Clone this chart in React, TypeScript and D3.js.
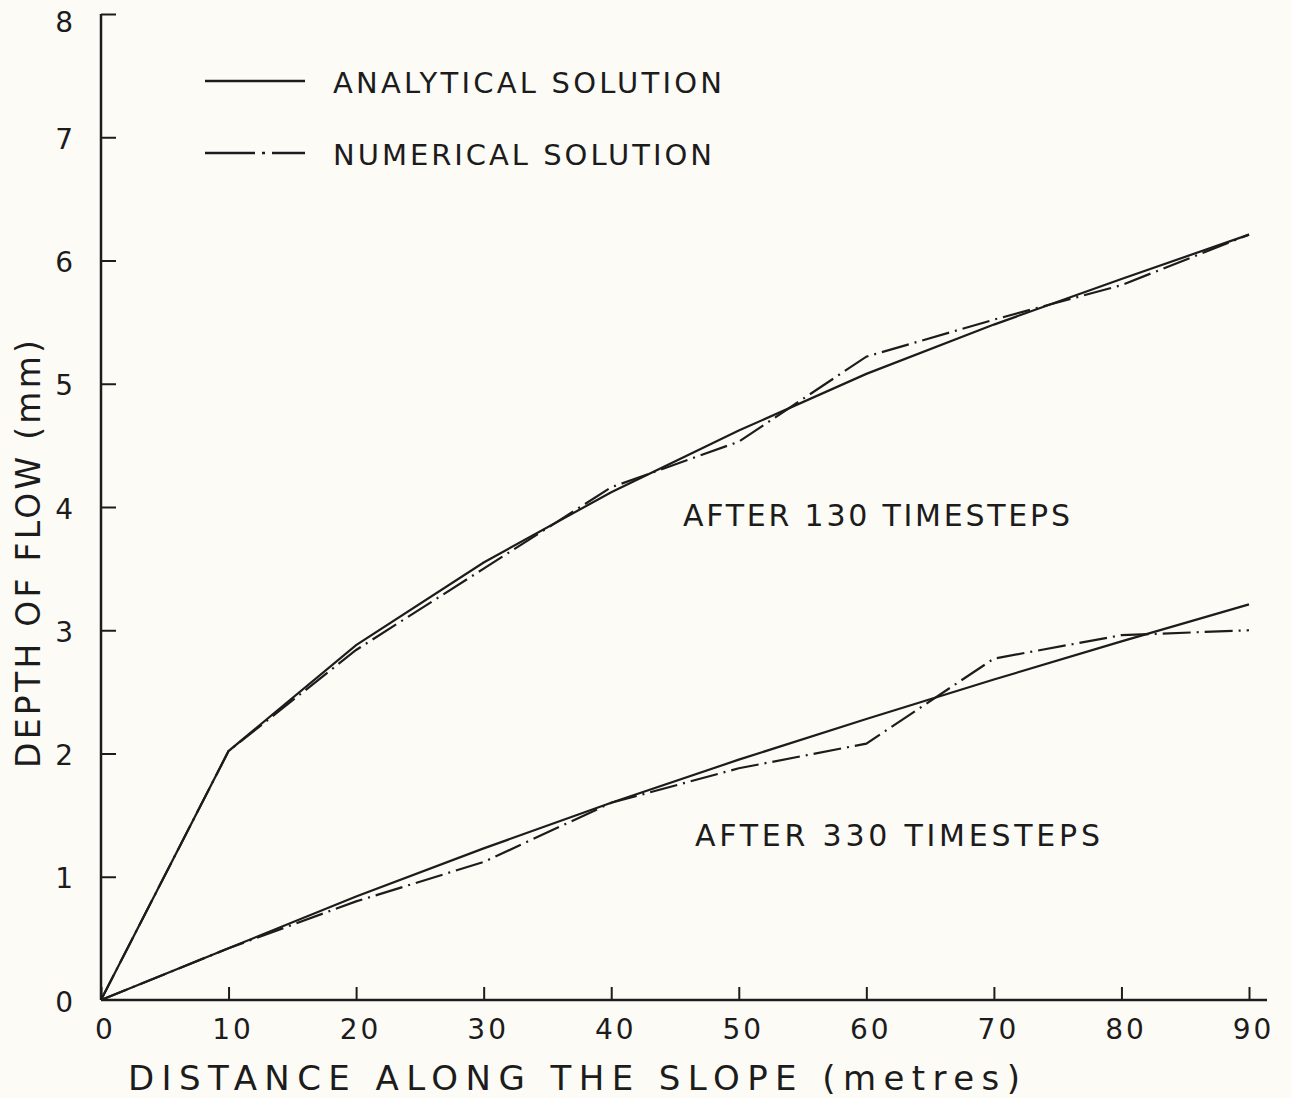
import * as d3 from 'd3';
import React, { useEffect, useRef } from 'react';

// distance along the slope (m)
const distance = [0, 10, 20, 30, 40, 50, 60, 70, 80, 90];

// depth of flow (mm) after 130 timesteps
const analytical130 = [0, 2.02, 2.88, 3.55, 4.12, 4.62, 5.08, 5.48, 5.85, 6.21];
const numerical130 = [0, 2.02, 2.84, 3.5, 4.16, 4.53, 5.22, 5.52, 5.8, 6.21];

// depth of flow (mm) after 330 timesteps
const analytical330 = [0, 0.42, 0.84, 1.23, 1.6, 1.95, 2.28, 2.6, 2.91, 3.21];
const numerical330 = [0, 0.42, 0.8, 1.12, 1.6, 1.88, 2.08, 2.77, 2.96, 3.0];

const xTicks = [0, 10, 20, 30, 40, 50, 60, 70, 80, 90];
const yTicks = [0, 1, 2, 3, 4, 5, 6, 7, 8];

const legendLabels = ['ANALYTICAL SOLUTION', 'NUMERICAL SOLUTION'];
const curveLabels = ['AFTER 130 TIMESTEPS', 'AFTER 330 TIMESTEPS'];

const FONT = '"DejaVu Sans", sans-serif';
const INK = '#1c1c1c';
const DASH_DOT = '28 6 2 6';

const App = () => {
    const svgRef = useRef<SVGSVGElement>(null);

    useEffect(() => {
        const width = 1291;
        const height = 1098;

        const xScale = d3.scaleLinear().domain([0, 90]).range([101, 1249]);
        const yScale = d3.scaleLinear().domain([0, 8]).range([1000, 14]);

        const svg = d3.select(svgRef.current);
        svg.selectAll('*').remove();
        svg.attr('width', width).attr('height', height);

        svg.append('rect')
            .attr('width', width)
            .attr('height', height)
            .attr('fill', '#fcfbf6');

        // x axis, ticks pointing up
        const xAxis = svg.append('g')
            .attr('transform', `translate(0,${yScale(0)})`)
            .call(d3.axisBottom(xScale).tickValues(xTicks).tickSizeInner(-13).tickSizeOuter(0).tickPadding(19));
        xAxis.select('.domain').remove();
        xAxis.selectAll('line').attr('stroke', INK).attr('stroke-width', 2);
        xAxis.selectAll('text')
            .attr('fill', INK)
            .attr('dx', '4')
            .style('font-family', FONT)
            .style('font-size', '28px')
            .style('letter-spacing', '3px');

        svg.append('line')
            .attr('x1', xScale(0)).attr('x2', 1267)
            .attr('y1', yScale(0)).attr('y2', yScale(0))
            .attr('stroke', INK).attr('stroke-width', 2.5);

        // y axis, ticks pointing right
        const yAxis = svg.append('g')
            .attr('transform', `translate(${xScale(0)},0)`)
            .call(d3.axisLeft(yScale).tickValues(yTicks).tickSizeInner(-15).tickSizeOuter(0).tickPadding(28));
        yAxis.select('.domain').remove();
        yAxis.selectAll('line').attr('stroke', INK).attr('stroke-width', 2);
        yAxis.selectAll('.tick').filter((d: any) => d === 0).select('line').remove();
        yAxis.selectAll('text')
            .attr('fill', INK)
            .attr('dy', (d: any) => (d === 8 ? '0.62em' : '0.4em'))
            .style('font-family', FONT)
            .style('font-size', '28px');

        svg.append('line')
            .attr('x1', xScale(0)).attr('x2', xScale(0))
            .attr('y1', yScale(8)).attr('y2', yScale(0))
            .attr('stroke', INK).attr('stroke-width', 2.5);

        // curves
        const line = d3.line<number>()
            .x((_, i) => xScale(distance[i]))
            .y(d => yScale(d));

        const series = [
            { values: analytical130, dash: null },
            { values: numerical130, dash: DASH_DOT },
            { values: analytical330, dash: null },
            { values: numerical330, dash: DASH_DOT },
        ];

        series.forEach(s => {
            svg.append('path')
                .datum(s.values)
                .attr('fill', 'none')
                .attr('stroke', INK)
                .attr('stroke-width', 2.2)
                .attr('stroke-dasharray', s.dash)
                .attr('d', line);
        });

        // legend
        const legendY = [81, 153];
        legendLabels.forEach((label, i) => {
            svg.append('line')
                .attr('x1', 205).attr('x2', 305)
                .attr('y1', legendY[i]).attr('y2', legendY[i])
                .attr('stroke', INK)
                .attr('stroke-width', 2.4)
                .attr('stroke-dasharray', i === 0 ? null : '50 7 3 7');
            svg.append('text')
                .attr('x', 333)
                .attr('y', legendY[i] + 4)
                .attr('dominant-baseline', 'middle')
                .attr('textLength', i === 0 ? 389 : 379)
                .attr('lengthAdjust', 'spacing')
                .attr('fill', INK)
                .style('font-family', FONT)
                .style('font-size', '29px')
                .text(label);
        });

        // curve annotations
        const curveLabelPos = [
            { x: 683, y: 526, len: 387 },
            { x: 695, y: 846, len: 405 },
        ];
        curveLabels.forEach((label, i) => {
            svg.append('text')
                .attr('x', curveLabelPos[i].x)
                .attr('y', curveLabelPos[i].y)
                .attr('textLength', curveLabelPos[i].len)
                .attr('lengthAdjust', 'spacing')
                .attr('fill', INK)
                .style('font-family', FONT)
                .style('font-size', '30px')
                .text(label);
        });

        // axis titles
        svg.append('text')
            .attr('x', 128)
            .attr('y', 1090)
            .attr('textLength', 892)
            .attr('lengthAdjust', 'spacing')
            .attr('fill', INK)
            .style('font-family', FONT)
            .style('font-size', '34px')
            .text('DISTANCE ALONG THE SLOPE (metres)');

        svg.append('text')
            .attr('transform', 'translate(40,768) rotate(-90)')
            .attr('textLength', 428)
            .attr('lengthAdjust', 'spacing')
            .attr('fill', INK)
            .style('font-family', FONT)
            .style('font-size', '33px')
            .text('DEPTH OF FLOW (mm)');
    }, []);

    return <svg ref={svgRef} style={{ position: 'absolute', left: 0, top: 0, display: 'block' }}></svg>;
};

export default App;
